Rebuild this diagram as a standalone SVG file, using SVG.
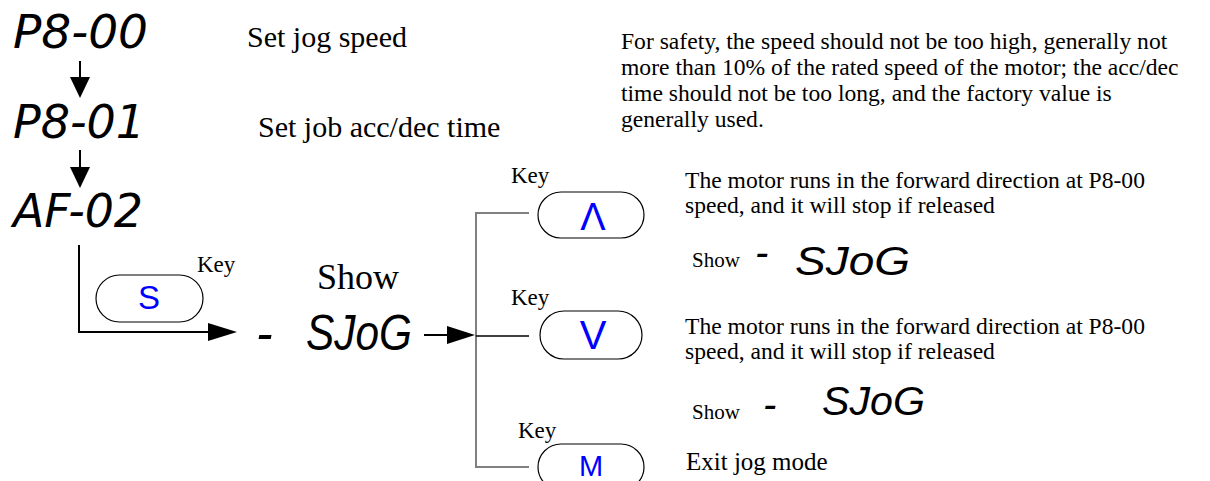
<svg xmlns="http://www.w3.org/2000/svg" width="1210" height="481" viewBox="0 0 1210 481">
<style>
.t{font-family:"Liberation Serif","Times New Roman",serif;fill:#000}
.seg{font-family:"Liberation Sans",Arial,sans-serif;font-style:italic;fill:#000}
.thin{font-family:"DejaVu Sans","Liberation Sans",sans-serif;font-weight:200;font-style:italic;fill:#000}
.btn{fill:#fff;stroke:#000;stroke-width:1.2}
.bl{font-family:"Liberation Sans",Arial,sans-serif;fill:#0000ff;text-anchor:middle}
.ln{stroke:#000;stroke-width:2;fill:none}
.gl{stroke:#808080;stroke-width:2;fill:none}
</style>
<g id="connectors">
<path d="M80,61 V78" class="ln"/>
<path d="M70,77 L90,77 L80,98 Z" fill="#000"/>
<path d="M80,150 V168" class="ln"/>
<path d="M70,167 L90,167 L80,188 Z" fill="#000"/>
<path d="M79,245 V332 H210" class="ln"/>
<path d="M208,323 L237,332 L208,341 Z" fill="#000"/>
<path d="M424,335 H450" class="ln"/>
<path d="M447,326 L475,335 L447,344 Z" fill="#000"/>
<path d="M529,213 H476 V467 H529" class="gl"/>
<path d="M476,336 H529" stroke="#000" stroke-width="1.5"/>
</g>
<g id="p800"><text class="thin" x="13" y="48" font-size="46" textLength="135" lengthAdjust="spacingAndGlyphs">P8-00</text></g>
<g id="p801"><text class="thin" x="13" y="138" font-size="46" textLength="132" lengthAdjust="spacingAndGlyphs">P8-01</text></g>
<g id="af02"><text class="thin" x="13" y="227" font-size="46" textLength="130" lengthAdjust="spacingAndGlyphs">AF-02</text></g>
<g id="lbl1"><text class="t" x="247" y="47" font-size="30">Set jog speed</text></g>
<g id="lbl2"><text class="t" x="258" y="137" font-size="30">Set job acc/dec time</text></g>
<g id="note">
<text class="t" font-size="23.6">
<tspan x="621" y="49">For safety, the speed should not be too high, generally not</tspan>
<tspan x="621" y="75">more than 10% of the rated speed of the motor; the acc/dec</tspan>
<tspan x="621" y="101">time should not be too long, and the factory value is</tspan>
<tspan x="621" y="127">generally used.</tspan>
</text>
</g>
<g id="keyS">
<rect class="btn" x="96" y="275" width="107" height="47" rx="23.5"/>
<text class="bl" x="149" y="309" font-size="33">S</text>
<text class="t" x="197" y="272" font-size="23">Key</text>
</g>
<g id="show">
<text class="t" x="317" y="289" font-size="36">Show</text>
<text class="seg" y="350" font-size="50"><tspan x="256">-</tspan><tspan x="306" textLength="106" lengthAdjust="spacingAndGlyphs">SJoG</tspan></text>
</g>
<g id="keyUp">
<text class="t" x="511" y="183" font-size="23">Key</text>
<rect class="btn" x="538" y="192" width="106" height="46" rx="23"/>
<text class="bl" x="593" y="230" font-size="38">Λ</text>
<text class="t" font-size="23.6"><tspan x="685" y="188">The motor runs in the forward direction at P8-00</tspan><tspan x="685" y="213">speed, and it will stop if released</tspan></text>
<text class="t" x="692" y="267" font-size="21">Show</text>
<text class="seg" x="755" y="266" font-size="40">-</text>
<text class="seg" x="795" y="275" font-size="40" textLength="115" lengthAdjust="spacingAndGlyphs">SJoG</text>
</g>
<g id="keyDown">
<text class="t" x="511" y="305" font-size="23">Key</text>
<rect class="btn" x="540" y="311" width="102" height="48" rx="24"/>
<text class="bl" x="593" y="349" font-size="40">V</text>
<text class="t" font-size="23.6"><tspan x="685" y="334">The motor runs in the forward direction at P8-00</tspan><tspan x="685" y="359">speed, and it will stop if released</tspan></text>
<text class="t" x="692" y="419" font-size="21">Show</text>
<text class="seg" x="763" y="418" font-size="40">-</text>
<text class="seg" x="822" y="415" font-size="40" textLength="103" lengthAdjust="spacingAndGlyphs">SJoG</text>
</g>
<g id="keyM">
<text class="t" x="518" y="438" font-size="23">Key</text>
<rect class="btn" x="538" y="444" width="106" height="46" rx="23"/>
<text class="bl" x="591" y="476" font-size="29">M</text>
<text class="t" x="686" y="470" font-size="25">Exit jog mode</text>
</g>
</svg>
